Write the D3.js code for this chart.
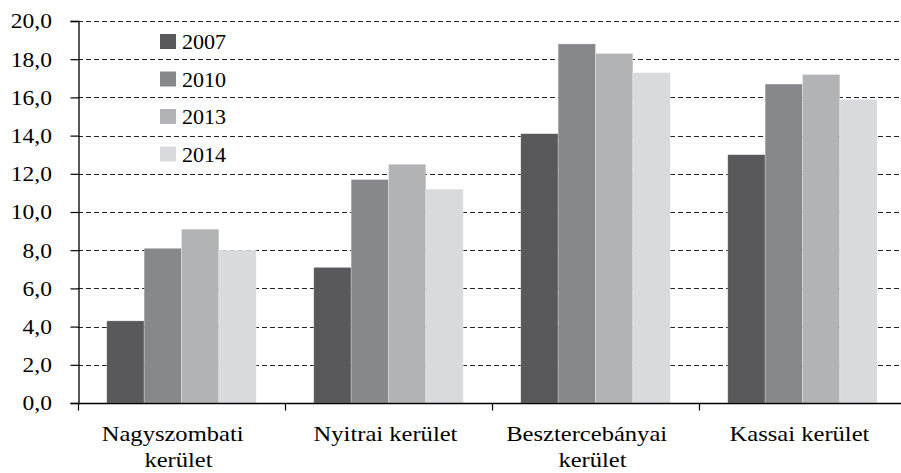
<!DOCTYPE html>
<html>
<head>
<meta charset="utf-8">
<script src="https://cdn.jsdelivr.net/npm/d3@7"></script>
<style>
  body { margin: 0; background: #fff; }
  svg { display: block; }
  text { font-family: "Liberation Serif", "Times New Roman", serif; }
</style>
</head>
<body>
<svg width="901" height="473"></svg>
<script>
// data
var categories = [["Nagyszombati", "kerület"], ["Nyitrai kerület"], ["Besztercebányai", "kerület"], ["Kassai kerület"]]
var years = ["2007", "2010", "2013", "2014"]
var v2007 = [4.3, 7.1, 14.1, 13.0]
var v2010 = [8.1, 11.7, 18.8, 16.7]
var v2013 = [9.1, 12.5, 18.3, 17.2]
var v2014 = [8.0, 11.2, 17.3, 15.9]
var yTicks = [0, 2, 4, 6, 8, 10, 12, 14, 16, 18, 20]
var colors = ["#59595b", "#87888a", "#b2b3b5", "#d9dadc"]

var seriesValues = [v2007, v2010, v2013, v2014]
var serif = "'Liberation Serif', 'Times New Roman', serif"

var svg = d3.select('svg')
var margin = {left: 78, top: 21, bottom: 70}
var height = 473
var plotRight = 906  // the original chart is cut off at the right edge
// the original picture is a bit stretched sideways, so is its text
var stretchY = 1.12, stretchX = 1.17, stretchLegend = 1.05

var locale = d3.formatLocale({decimal: ",", thousands: " ", grouping: [3], currency: ["", ""]})
var fmt = locale.format(".1f")

var x0 = d3.scaleBand()
  .domain(d3.range(categories.length))
  .range([margin.left, plotRight])
var x1 = d3.scaleBand()
  .domain(years)
  .range([0, x0.bandwidth()])
  .paddingOuter(0.77)
var y = d3.scaleLinear()
  .domain([0, 20])
  .range([height - margin.bottom, margin.top])

// gridlines
svg.append("g")
  .selectAll("line")
  .data(yTicks.slice(1))
  .enter().append("line")
    .attr("x1", margin.left)
    .attr("x2", plotRight)
    .attr("y1", d => Math.round(y(d)) + 0.5)
    .attr("y2", d => Math.round(y(d)) + 0.5)
    .attr("stroke", "#222")
    .attr("stroke-width", 1.1)
    .attr("stroke-dasharray", "5,3")

// bars
var groups = svg.append("g")
  .selectAll("g")
  .data(categories)
  .enter().append("g")
    .attr("transform", (d, i) => `translate(${x0(i)},0)`)
groups.selectAll("rect")
  .data((d, i) => years.map((yr, k) => ({year: yr, k: k, value: seriesValues[k][i]})))
  .enter().append("rect")
    .attr("x", d => x1(d.year))
    .attr("width", x1.bandwidth())
    .attr("y", d => y(d.value))
    .attr("height", d => y(0) - y(d.value))
    .attr("fill", d => colors[d.k])
    .attr("stroke", "#fff")
    .attr("stroke-opacity", 0.45)
    .attr("stroke-width", 0.6)

// y axis
var yAxis = svg.append("g")
  .attr("transform", `translate(${margin.left + 0.5},0)`)
  .call(d3.axisLeft(y).tickValues(yTicks).tickFormat(fmt).tickSize(8))
yAxis.attr("font-family", serif)
yAxis.select(".domain").attr("stroke", "#000").attr("stroke-width", 1.3)
yAxis.selectAll(".tick line").attr("stroke", "#000").attr("stroke-width", 1.2)
yAxis.selectAll(".tick text")
  .attr("font-family", serif)
  .attr("font-size", 21)
  .attr("fill", "#000")
  .attr("x", -26.5 / stretchY)
  .attr("dy", "0.33em")
  .attr("transform", `scale(${stretchY},1)`)

// x axis
var xAxis = svg.append("g")
  .attr("transform", `translate(0,${y(0) + 0.5})`)
xAxis.append("line")
  .attr("x1", margin.left)
  .attr("x2", plotRight)
  .attr("stroke", "#000")
  .attr("stroke-width", 1.3)
xAxis.selectAll(".xtick")
  .data(d3.range(categories.length + 1))
  .enter().append("line")
    .attr("class", "xtick")
    .attr("x1", i => Math.round(margin.left + i * x0.step()) + 0.5)
    .attr("x2", i => Math.round(margin.left + i * x0.step()) + 0.5)
    .attr("y1", 0)
    .attr("y2", 7)
    .attr("stroke", "#000")
    .attr("stroke-width", 1.2)
var labels = xAxis.selectAll(".xlabel")
  .data(categories)
  .enter().append("text")
    .attr("class", "xlabel")
    .attr("text-anchor", "middle")
    .attr("font-family", serif)
    .attr("font-size", 21)
    .attr("fill", "#000")
    .attr("transform", (d, i) => `translate(${x0(i) + x0.bandwidth() / 2 - 3},37) scale(${stretchX},1)`)
labels.selectAll("tspan")
  .data(d => d.map(t => ({t: t, two: d.length > 1})))
  .enter().append("tspan")
    .attr("x", (d, i) => d.two && i === 0 ? -5 : 0)
    .attr("y", (d, i) => i * 27)
    .text(d => d.t)

// legend
var legend = svg.append("g")
  .selectAll("g")
  .data(years)
  .enter().append("g")
    .attr("transform", (d, i) => `translate(160,${34 + i * 37.5})`)
legend.append("rect")
  .attr("width", 16)
  .attr("height", 15)
  .attr("fill", (d, i) => colors[i])
legend.append("text")
  .attr("transform", `translate(22,15) scale(${stretchLegend},1)`)
  .attr("font-family", serif)
  .attr("font-size", 21)
  .attr("fill", "#000")
  .text(d => d)
</script>
</body>
</html>
